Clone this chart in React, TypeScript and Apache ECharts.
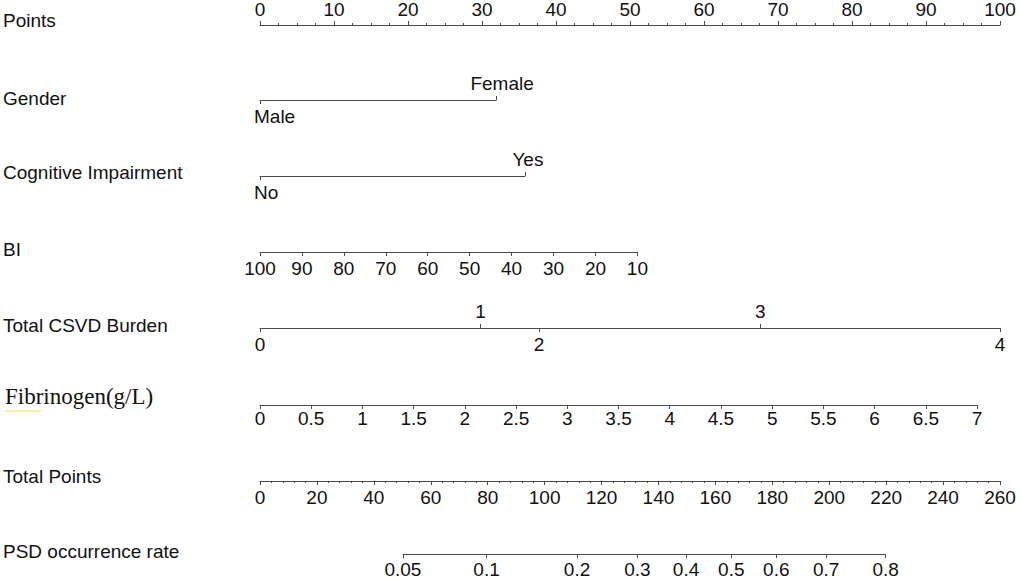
import React, { useEffect, useRef } from "react";
import * as echarts from "echarts";

// ---------- data ----------
const ROW_LABELS = [
  "Points",
  "Gender",
  "Cognitive Impairment",
  "BI",
  "Total CSVD Burden",
  "Fibrinogen(g/L)",
  "Total Points",
  "PSD occurrence rate",
];
const POINTS_MIN = 0;
const POINTS_MAX = 100;
const POINTS_INTERVAL = 10;

const GENDER_LEVELS = ["Male", "Female"];
const GENDER_POINTS = [0, 31.9];

const COG_LEVELS = ["No", "Yes"];
const COG_POINTS = [0, 35.8];

const BI_MIN = 10;
const BI_MAX = 100;
const BI_INTERVAL = 10;
const BI_POINTS_RANGE = [0, 51.0]; // points at BI=100 and at BI=10

const CSVD_LEVELS = [0, 1, 2, 3, 4];
const CSVD_POINTS = [0, 29.8, 37.7, 67.6, 100];

const FIB_MIN = 0;
const FIB_MAX = 7;
const FIB_INTERVAL = 0.5;
const FIB_POINTS_RANGE = [0, 96.9];

const TOTAL_MIN = 0;
const TOTAL_MAX = 260;
const TOTAL_INTERVAL = 20;

const PSD_RATES = ["0.05", "0.1", "0.2", "0.3", "0.4", "0.5", "0.6", "0.7", "0.8"];
const PSD_TOTAL_POINTS = [50.2, 79.6, 111.4, 132.6, 149.7, 165.6, 181.4, 198.9, 219.8];

// ---------- layout ----------
const X0 = 260;
const AXIS_W = 740;
const PX_PER_POINT = AXIS_W / (POINTS_MAX - POINTS_MIN);
const PX_PER_TOTAL = AXIS_W / (TOTAL_MAX - TOTAL_MIN);
const LABEL_Y = [20, 98, 172, 249, 325, 398, 476, 551];
const LINE_Y = [25, 100, 176, 252, 328, 405, 481, 554];
const FONT = "'Liberation Sans', Arial, Helvetica, sans-serif";
const SERIF = "'Liberation Serif', 'Times New Roman', serif";
const LINE_COLOR = "#4a4a4a";
const FS = 19;
const LH = 16;

function nearestLabel(v: number, pts: number[], labels: (string | number)[]) {
  let best = 0;
  for (let i = 1; i < pts.length; i++) {
    if (Math.abs(pts[i] - v) < Math.abs(pts[best] - v)) best = i;
  }
  return String(labels[best]);
}

function baseAxis(gridIndex: number, position: "top" | "bottom", extra: any = {}) {
  const { axisLine, axisTick, axisLabel, minorTick, ...rest } = extra;
  return {
    gridIndex,
    type: "value",
    position,
    axisLine: { show: true, onZero: false, lineStyle: { color: LINE_COLOR, width: 1 }, ...(axisLine || {}) },
    axisTick: { show: true, length: 4, lineStyle: { color: LINE_COLOR, width: 1 }, ...(axisTick || {}) },
    minorTick: minorTick || { show: false },
    splitLine: { show: false },
    axisLabel: {
      color: "#111",
      fontSize: FS,
      lineHeight: LH,
      fontFamily: FONT,
      margin: position === "top" ? 8.5 : 8,
      ...(axisLabel || {}),
    },
    ...rest,
  };
}

export default function App() {
  const ref = useRef<HTMLDivElement>(null);

  useEffect(() => {
    if (!ref.current) return;
    const chart = echarts.init(ref.current, undefined, { renderer: "svg" });

    const grids: any[] = [];
    const xAxes: any[] = [];
    const yAxes: any[] = [];
    const addGrid = (left: number, width: number, lineY: number) => {
      grids.push({ left, top: lineY, width, height: 0 });
      yAxes.push({ gridIndex: grids.length - 1, type: "value", show: false, min: 0, max: 1 });
      return grids.length - 1;
    };

    // Points
    let g = addGrid(X0, AXIS_W, LINE_Y[0]);
    xAxes.push(
      baseAxis(g, "top", {
        min: POINTS_MIN,
        max: POINTS_MAX,
        interval: POINTS_INTERVAL,
        axisLabel: { margin: 7.5 },
        minorTick: { show: true, splitNumber: 4, length: 2, lineStyle: { color: LINE_COLOR } },
      })
    );

    // Gender
    g = addGrid(X0 + GENDER_POINTS[0] * PX_PER_POINT, (GENDER_POINTS[1] - GENDER_POINTS[0]) * PX_PER_POINT, LINE_Y[1]);
    xAxes.push(
      baseAxis(g, "bottom", {
        min: GENDER_POINTS[0],
        max: GENDER_POINTS[1],
        axisTick: { customValues: [GENDER_POINTS[0]] },
        axisLabel: {
          customValues: [GENDER_POINTS[0]],
          align: "left",
          padding: [0, 0, 0, -6],
          formatter: (v: number) => nearestLabel(v, GENDER_POINTS, GENDER_LEVELS),
        },
      })
    );
    xAxes.push(
      baseAxis(g, "top", {
        min: GENDER_POINTS[0],
        max: GENDER_POINTS[1],
        axisLine: { show: false },
        axisTick: { customValues: [GENDER_POINTS[1]] },
        axisLabel: {
          customValues: [GENDER_POINTS[1]],
          padding: [0, 0, 0, 12],
          formatter: (v: number) => nearestLabel(v, GENDER_POINTS, GENDER_LEVELS),
        },
      })
    );

    // Cognitive impairment
    g = addGrid(X0 + COG_POINTS[0] * PX_PER_POINT, (COG_POINTS[1] - COG_POINTS[0]) * PX_PER_POINT, LINE_Y[2]);
    xAxes.push(
      baseAxis(g, "bottom", {
        min: COG_POINTS[0],
        max: COG_POINTS[1],
        axisTick: { customValues: [COG_POINTS[0]] },
        axisLabel: {
          customValues: [COG_POINTS[0]],
          align: "left",
          padding: [0, 0, 0, -6],
          formatter: (v: number) => nearestLabel(v, COG_POINTS, COG_LEVELS),
        },
      })
    );
    xAxes.push(
      baseAxis(g, "top", {
        min: COG_POINTS[0],
        max: COG_POINTS[1],
        axisLine: { show: false },
        axisTick: { customValues: [COG_POINTS[1]] },
        axisLabel: {
          customValues: [COG_POINTS[1]],
          padding: [0, 0, 0, 6],
          formatter: (v: number) => nearestLabel(v, COG_POINTS, COG_LEVELS),
        },
      })
    );

    // BI
    g = addGrid(X0 + BI_POINTS_RANGE[0] * PX_PER_POINT, (BI_POINTS_RANGE[1] - BI_POINTS_RANGE[0]) * PX_PER_POINT, LINE_Y[3]);
    xAxes.push(
      baseAxis(g, "bottom", {
        min: BI_MIN,
        max: BI_MAX,
        interval: BI_INTERVAL,
        inverse: true,
      })
    );

    // Total CSVD burden
    const csvdBottom = CSVD_POINTS.filter((_, i) => i % 2 === 0);
    const csvdTop = CSVD_POINTS.filter((_, i) => i % 2 === 1);
    g = addGrid(X0 + CSVD_POINTS[0] * PX_PER_POINT, (CSVD_POINTS[CSVD_POINTS.length - 1] - CSVD_POINTS[0]) * PX_PER_POINT, LINE_Y[4]);
    xAxes.push(
      baseAxis(g, "bottom", {
        min: CSVD_POINTS[0],
        max: CSVD_POINTS[CSVD_POINTS.length - 1],
        axisTick: { customValues: csvdBottom },
        axisLabel: {
          customValues: csvdBottom,
          formatter: (v: number) => nearestLabel(v, CSVD_POINTS, CSVD_LEVELS),
        },
      })
    );
    xAxes.push(
      baseAxis(g, "top", {
        min: CSVD_POINTS[0],
        max: CSVD_POINTS[CSVD_POINTS.length - 1],
        axisLine: { show: false },
        axisTick: { customValues: csvdTop },
        axisLabel: {
          customValues: csvdTop,
          formatter: (v: number) => nearestLabel(v, CSVD_POINTS, CSVD_LEVELS),
        },
      })
    );

    // Fibrinogen
    g = addGrid(X0 + FIB_POINTS_RANGE[0] * PX_PER_POINT, (FIB_POINTS_RANGE[1] - FIB_POINTS_RANGE[0]) * PX_PER_POINT, LINE_Y[5]);
    xAxes.push(
      baseAxis(g, "bottom", {
        min: FIB_MIN,
        max: FIB_MAX,
        interval: FIB_INTERVAL,
        axisLabel: { margin: 5 },
      })
    );

    // Total points
    g = addGrid(X0, AXIS_W, LINE_Y[6]);
    xAxes.push(
      baseAxis(g, "bottom", {
        min: TOTAL_MIN,
        max: TOTAL_MAX,
        interval: TOTAL_INTERVAL,
        minorTick: { show: true, splitNumber: 5, length: 2, lineStyle: { color: LINE_COLOR } },
      })
    );

    // PSD occurrence rate
    const psdMin = PSD_TOTAL_POINTS[0];
    const psdMax = PSD_TOTAL_POINTS[PSD_TOTAL_POINTS.length - 1];
    g = addGrid(X0 + (psdMin - TOTAL_MIN) * PX_PER_TOTAL, (psdMax - psdMin) * PX_PER_TOTAL, LINE_Y[7]);
    xAxes.push(
      baseAxis(g, "bottom", {
        min: psdMin,
        max: psdMax,
        axisTick: { customValues: PSD_TOTAL_POINTS },
        axisLabel: {
          customValues: PSD_TOTAL_POINTS,
          margin: 7,
          formatter: (v: number) => nearestLabel(v, PSD_TOTAL_POINTS, PSD_RATES),
        },
      })
    );

    const graphics: any[] = ROW_LABELS.map((name, i) => {
      const serif = name.startsWith("Fibrinogen");
      return {
        type: "text",
        left: serif ? 5 : 3,
        top: LABEL_Y[i] - (serif ? 13 : 9),
        style: {
          text: name,
          fill: "#111",
          font: serif ? `23px ${SERIF}` : `${FS}px ${FONT}`,
        },
      };
    });
    graphics.push({
      type: "line",
      shape: { x1: 5, y1: 411, x2: 41, y2: 411 },
      style: { stroke: "#eeee88", lineWidth: 1.5 },
    });

    chart.setOption({
      animation: false,
      backgroundColor: "#ffffff",
      grid: grids,
      xAxis: xAxes,
      yAxis: yAxes,
      series: [],
      graphic: graphics,
    });

    return () => chart.dispose();
  }, []);

  return (
    <div
      ref={ref}
      style={{ position: "absolute", left: 0, top: 0, width: 1021, height: 579, background: "#fff" }}
    />
  );
}
